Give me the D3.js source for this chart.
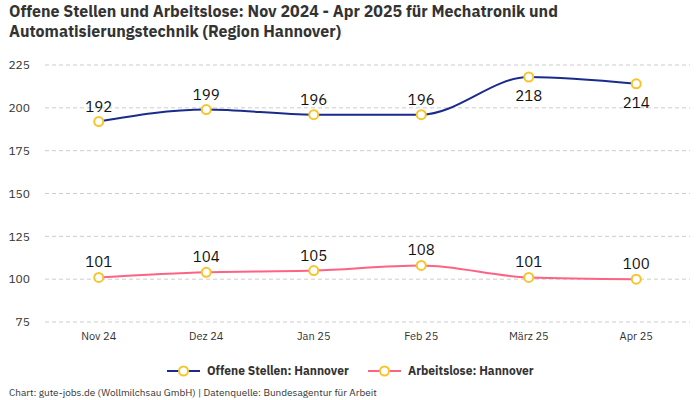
<!DOCTYPE html>
<html>
<meta charset="utf-8">
<style>
  body { margin: 0; background: #fff; }
  text { font-family: "IBM Plex Sans", "Noto Sans", sans-serif; }
</style>
<body>
  <script src="https://d3js.org/d3.v7.min.js"></script>
  <script>
    // data
    var months = ["Nov 24", "Dez 24", "Jan 25", "Feb 25", "März 25", "Apr 25"];
    var offeneStellen = [192, 199, 196, 196, 218, 214];
    var arbeitslose = [101, 104, 105, 108, 101, 100];
    var yTicks = [75, 100, 125, 150, 175, 200, 225];
    var seriesNames = ["Offene Stellen: Hannover", "Arbeitslose: Hannover"];

    var width = 700, height = 400;
    var margin = {top: 65, right: 10, bottom: 78, left: 45};

    var svg = d3.select("body").append("svg")
        .attr("width", width)
        .attr("height", height);

    var x = d3.scalePoint()
        .domain(months)
        .range([margin.left, width - margin.right])
        .padding(0.5);

    var y = d3.scaleLinear()
        .domain([75, 225])
        .range([322, 65]);

    // title
    svg.append("text")
        .attr("x", 9).attr("y", 17)
        .attr("font-size", 16).attr("font-weight", 700)
        .attr("fill", "#333")
        .attr("font-family", "'Liberation Sans Narrow', 'Roboto', sans-serif")
        .selectAll("tspan")
        .data(["Offene Stellen und Arbeitslose: Nov 2024 - Apr 2025 für Mechatronik und",
               "Automatisierungstechnik (Region Hannover)"])
        .join("tspan")
          .attr("x", 9)
          .attr("dy", (d, i) => i ? 20 : 0)
          .text(d => d);

    // grid
    svg.append("g")
        .selectAll("line")
        .data(yTicks)
        .join("line")
          .attr("x1", margin.left).attr("x2", width - margin.right)
          .attr("y1", d => y(d)).attr("y2", d => y(d))
          .attr("stroke", "#ccc")
          .attr("stroke-dasharray", "4,3");

    // y labels
    svg.append("g")
        .selectAll("text")
        .data(yTicks)
        .join("text")
          .attr("x", 30).attr("y", d => y(d))
          .attr("dy", "0.35em")
          .attr("text-anchor", "end")
          .attr("font-size", 12)
          .attr("fill", "#333")
          .text(d => d);

    // x labels
    svg.append("g")
        .selectAll("text")
        .data(months)
        .join("text")
          .attr("x", d => x(d)).attr("y", 340)
          .attr("text-anchor", "middle")
          .attr("font-size", 11)
          .attr("fill", "#333")
          .text(d => d);

    var line = d3.line()
        .x((d, i) => x(months[i]))
        .y(d => y(d))
        .curve(d3.curveMonotoneX);

    function drawSeries(values, color, below) {
      svg.append("path")
          .datum(values)
          .attr("d", line)
          .attr("fill", "none")
          .attr("stroke", color)
          .attr("stroke-width", 2);

      svg.append("g")
          .selectAll("circle")
          .data(values)
          .join("circle")
            .attr("cx", (d, i) => x(months[i]))
            .attr("cy", d => y(d))
            .attr("r", 4.5)
            .attr("fill", "#fff")
            .attr("stroke", "#f7c52b")
            .attr("stroke-width", 2);

      svg.append("g")
          .selectAll("text")
          .data(values)
          .join("text")
            .attr("x", (d, i) => x(months[i]))
            .attr("y", (d, i) => below(i) ? y(d) + 24 : y(d) - 10)
            .attr("text-anchor", "middle")
            .attr("font-size", 15)
            .attr("font-weight", 400)
            .attr("fill", "#111")
            .text(d => d);
    }

    drawSeries(offeneStellen, "#1a2b8c", i => i >= 4);
    drawSeries(arbeitslose, "#ff6384", i => false);

    // legend
    var legend = svg.append("g");
    var legendItems = [
      {name: seriesNames[0], color: "#1a2b8c", x: 167},
      {name: seriesNames[1], color: "#ff6384", x: 368}
    ];
    legendItems.forEach(function(it) {
      legend.append("line")
          .attr("x1", it.x).attr("x2", it.x + 33)
          .attr("y1", 371).attr("y2", 371)
          .attr("stroke", it.color).attr("stroke-width", 2);
      legend.append("circle")
          .attr("cx", it.x + 16.5).attr("cy", 371).attr("r", 4.5)
          .attr("fill", "#fff").attr("stroke", "#f7c52b").attr("stroke-width", 2);
      legend.append("text")
          .attr("x", it.x + 40).attr("y", 371).attr("dy", "0.35em")
          .attr("font-size", 12).attr("font-weight", 700)
          .attr("fill", "#333")
          .text(it.name);
    });

    // footer
    svg.append("text")
        .attr("x", 9).attr("y", 396)
        .attr("font-size", 10)
        .attr("fill", "#333")
        .text("Chart: gute-jobs.de (Wollmilchsau GmbH) | Datenquelle: Bundesagentur für Arbeit");
  </script>
</body>
</html>
